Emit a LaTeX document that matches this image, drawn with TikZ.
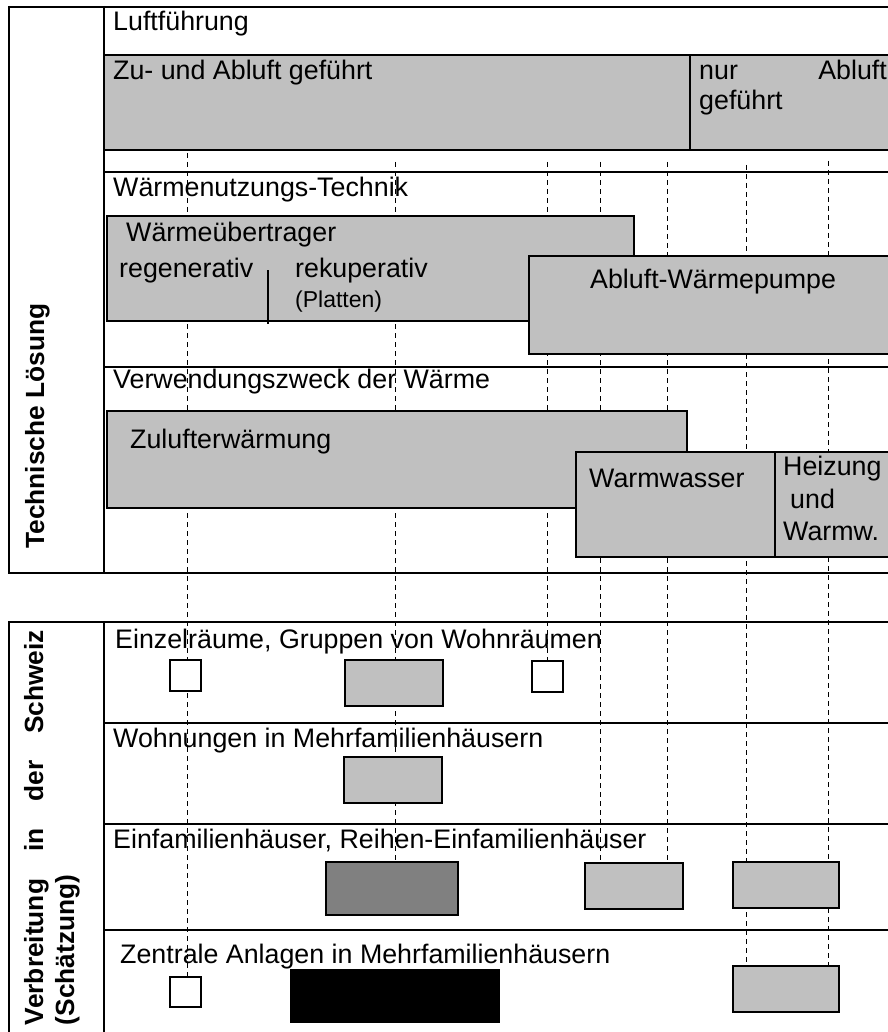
\documentclass[tikz,border=0pt]{standalone}
\usepackage{fontspec}
\setmainfont{Liberation Sans}
\definecolor{boxgrey}{RGB}{192,192,192}
\definecolor{darkgrey}{RGB}{128,128,128}
\begin{document}
\begin{tikzpicture}[x=1pt,y=-1pt,
  frame/.style={line width=2.2pt},
  thinframe/.style={line width=1.6pt},
  box/.style={draw=black, line width=1.6pt, fill=boxgrey},
  guide/.style={line width=0.9pt, dash pattern=on 5pt off 4pt},
  lbl/.style={inner sep=0pt, anchor=base west, font=\fontsize{26.8}{31}\selectfont},
  vlbl/.style={inner sep=0pt, rotate=90, font=\bfseries\fontsize{26.3}{31}\selectfont}]
\useasboundingbox[fill=white] (0,0) rectangle (887,1032);

% dashed guide lines
\draw[guide] (187,153) -- (187,977);
\draw[guide] (395,162) -- (395,917);
\draw[guide] (547,162) -- (547,661);
\draw[guide] (600,162) -- (600,863);
\draw[guide] (667,162) -- (667,862);
\draw[guide] (746,165) -- (746,966);
\draw[guide] (828,161) -- (828,966);

% ---------- top section ----------
\fill[boxgrey] (104,55) rectangle (890,150);
\draw[thinframe] (690,55) -- (690,150);
\draw[frame] (9,7) -- (890,7);
\draw[frame] (104,55) -- (890,55);
\draw[frame] (104,150) -- (890,150);
\draw[frame] (104,172) -- (890,172);
\draw[frame] (104,367) -- (890,367);
\draw[frame] (9,573) -- (890,573);
\draw[frame] (9,6) -- (9,574);
\draw[frame] (104,6) -- (104,574);

% Waermenutzungs-Technik boxes
\draw[box] (107,216) rectangle (634,321);
\draw[thinframe] (268,270) -- (268,324);
\draw[box] (529,256) rectangle (892,354);

% Verwendungszweck boxes
\draw[box] (107,411) rectangle (687,508);
\draw[box] (576,452) rectangle (775,557);
\draw[box] (775,452) rectangle (892,557);

% ---------- bottom section ----------
\draw[frame] (9,622) -- (890,622);
\draw[frame] (104,723) -- (890,723);
\draw[frame] (104,824) -- (890,824);
\draw[frame] (104,930) -- (890,930);
\draw[frame] (9,621) -- (9,1034);
\draw[frame] (104,621) -- (104,1034);

% row 1
\draw[box, fill=white] (170,660) rectangle (201,691);
\draw[box] (345,660) rectangle (443,706);
\draw[box, fill=white] (532,661) rectangle (563,692);
% row 2
\draw[box] (344,757) rectangle (442,803);
% row 3
\draw[box, fill=darkgrey] (326,862) rectangle (458,915);
\draw[box] (585,863) rectangle (683,909);
\draw[box] (733,862) rectangle (839,908);
% row 4
\draw[box, fill=white] (170,977) rectangle (201,1007);
\fill[black] (290,969) rectangle (500,1023);
\draw[box] (733,966) rectangle (839,1012);

% ---------- texts ----------
\node[lbl] (luft) at (113,31) {Luftführung};
\node[lbl] (zuab) at (113,80) {Zu- und Abluft geführt};
\node[lbl] (nur) at (699,80) {nur};
\node[lbl, anchor=base east] (abl) at (887,80) {Abluft};
\node[lbl] (gef) at (699,110) {geführt};
\node[lbl] (wnt) at (113,197) {Wärmenutzungs-Technik};
\node[lbl] (wue) at (126,241) {Wärmeübertrager};
\node[lbl] (reg) at (119,277) {regenerativ};
\node[lbl] (rek) at (295,277) {rekuperativ};
\node[lbl, font=\fontsize{23}{27}\selectfont] (plat) at (295,307) {(Platten)};
\node[lbl] (awp) at (590,288) {Abluft-Wärmepumpe};
\node[lbl] (vzw) at (113,388) {Verwendungszweck der Wärme};
\node[lbl] (zul) at (130,448) {Zulufterwärmung};
\node[lbl] (ww) at (589,487) {Warmwasser};
\node[lbl] (hz1) at (783,475) {Heizung};
\node[lbl] (hz2) at (790,508) {und};
\node[lbl] (hz3) at (783,540) {Warmw.};

\node[lbl] (r1) at (115,648) {Einzelräume, Gruppen von Wohnräumen};
\node[lbl] (r2) at (113,747) {Wohnungen in Mehrfamilienhäusern};
\node[lbl] (r3) at (113,848) {Einfamilienhäuser, Reihen-Einfamilienhäuser};
\node[lbl] (r4) at (120,963) {Zentrale Anlagen in Mehrfamilienhäusern};

\node[vlbl, anchor=base] (tl) at (44,426) {Technische Lösung};
\node[vlbl, text width=395pt, align=justify] (vb) at (52,827.5)
  {\hyphenpenalty=10000 Verbreitung in der Schweiz\linebreak (Schätzung)};
\end{tikzpicture}
\end{document}
